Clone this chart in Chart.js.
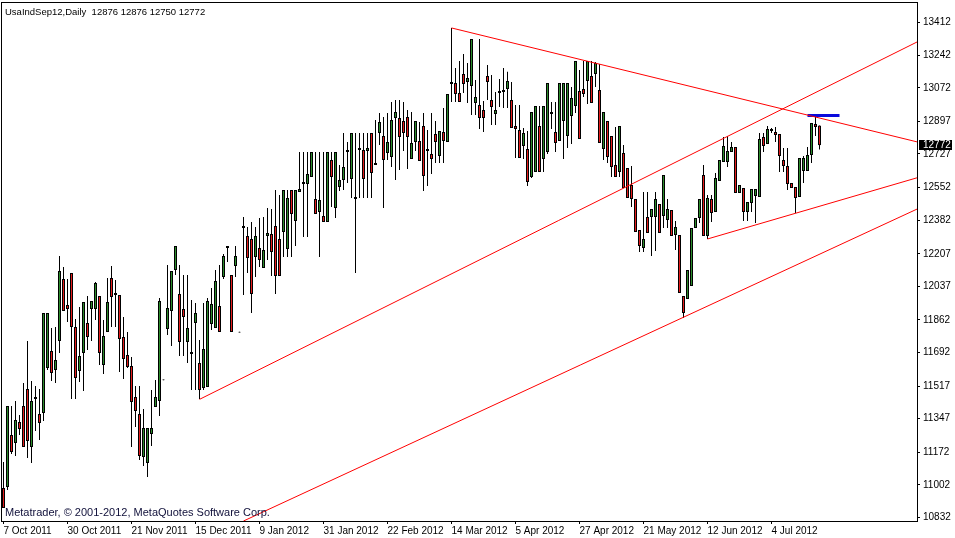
<!DOCTYPE html>
<html>
<head>
<meta charset="utf-8">
<script src="https://cdn.jsdelivr.net/npm/chart.js@4.4.0/dist/chart.umd.min.js"></script>
<style>
html, body { margin: 0; padding: 0; background: #fff; }
#wrap { width: 955px; height: 538px; position: relative; }
</style>
</head>
<body>
<div id="wrap"><canvas id="chart"></canvas></div>
<script>
const symbolTitle = 'UsaIndSep12,Daily  12876 12876 12750 12772';
const copyright = 'Metatrader, \u00a9 2001-2012, MetaQuotes Software Corp.';

// one date label every 16 bars
const dateLabels = ['7 Oct 2011', '30 Oct 2011', '21 Nov 2011', '15 Dec 2011', '9 Jan 2012', '31 Jan 2012',
    '22 Feb 2012', '14 Mar 2012', '5 Apr 2012', '27 Apr 2012', '21 May 2012', '12 Jun 2012', '4 Jul 2012'];
const labelEvery = 16;

const yTicks = [13412, 13242, 13072, 12897, 12727, 12552, 12382, 12207, 12037, 11862, 11692, 11517, 11347, 11172, 11002, 10832];

const opens = [10986, 10991, 11262, 11220, 11330, 11413, 11502, 11200, 11460, 11372,
    11377, 11611, 11700, 11601, 11752, 12075, 11940, 12107, 11825, 11596,
    11690, 11846, 11919, 11919, 11987, 11627, 11799, 12081, 12002, 11992,
    11773, 11679, 11622, 11460, 11372, 11147, 11116, 11267, 11408, 11439,
    11551, 11815, 11909, 12122, 11997, 11919, 11747, 11695, 11846, 11638,
    11507, 11512, 11841, 11820, 11935, 12086, 12247, 12096, 12143, 11801,
    12352, 12300, 12284, 12190, 12237, 12133, 12300, 12310, 12352, 12284,
    12320, 12232, 12539, 12378, 12529, 12571, 12571, 12607, 12492, 12425,
    12404, 12373, 12696, 12446, 12555, 12591, 12748, 12597, 12503, 12748,
    12748, 12743, 12837, 12680, 12837, 12821, 12732, 12711, 12915, 12915,
    12899, 12920, 12701, 12790, 12795, 12873, 12753, 12727, 12831, 12717,
    12842, 12790, 13092, 13097, 13045, 13144, 13102, 13082, 12993, 12982,
    12956, 13134, 13009, 12936, 13045, 13050, 13066, 13009, 12873, 12852,
    12769, 12753, 12607, 12633, 12873, 12701, 12737, 12946, 12842, 12795,
    12899, 12821, 12925, 12977, 13055, 13066, 13108, 13134, 13144, 13061,
    12753, 12899, 12821, 12670, 12633, 12732, 12654, 12565, 12492, 12331,
    12237, 12399, 12399, 12399, 12466, 12404, 12383, 12435, 12305, 12305,
    11987, 11971, 12039, 12341, 12393, 12618, 12300, 12492, 12425, 12586,
    12685, 12685, 12737, 12764, 12524, 12550, 12425, 12472, 12508, 12503,
    12816, 12779, 12857, 12842, 12831, 12696, 12665, 12576, 12555, 12503,
    12638, 12638, 12722, 12883, 12876];
const highs = [11121, 11413, 11413, 11439, 11366, 11533, 11752, 11544, 11518, 11502,
    11898, 11898, 11820, 11825, 12195, 12138, 12075, 12107, 11867, 11929,
    11955, 11987, 11961, 12060, 11987, 11862, 12081, 12143, 12070, 11992,
    11877, 11799, 11669, 11518, 11518, 11398, 11299, 11497, 11549, 11976,
    11551, 12148, 12117, 12247, 12148, 12096, 12096, 11966, 11950, 11757,
    11950, 11976, 12029, 12122, 12148, 12206, 12247, 12096, 12247, 11801,
    12399, 12347, 12373, 12347, 12393, 12399, 12446, 12440, 12539, 12513,
    12539, 12539, 12539, 12539, 12737, 12737, 12737, 12737, 12737, 12737,
    12737, 12737, 12737, 12737, 12670, 12837, 12790, 12837, 12837, 12837,
    12837, 12837, 12837, 12904, 12941, 12920, 12941, 12998, 13009, 13009,
    12998, 12956, 12946, 12899, 12894, 12941, 12852, 12941, 12899, 12847,
    12967, 13040, 13384, 13175, 13212, 13248, 13201, 13327, 13113, 13327,
    13003, 13191, 13139, 13050, 13118, 13175, 13155, 13102, 12982, 12982,
    12863, 12847, 12946, 12977, 12977, 12977, 13097, 12998, 12998, 13097,
    13097, 13097, 13076, 13212, 13165, 13212, 13212, 13212, 13207, 13196,
    12946, 12899, 12821, 12868, 12873, 12774, 12654, 12665, 12492, 12331,
    12529, 12529, 12440, 12529, 12466, 12618, 12492, 12435, 12378, 12305,
    11987, 12122, 12341, 12393, 12492, 12670, 12513, 12513, 12628, 12696,
    12816, 12821, 12790, 12764, 12565, 12550, 12477, 12545, 12545, 12837,
    12837, 12873, 12863, 12868, 12831, 12758, 12758, 12576, 12555, 12706,
    12717, 12764, 12889, 12925, 12876];
const lows = [10882, 10975, 11163, 11153, 11262, 11200, 11142, 11116, 11283, 11236,
    11335, 11601, 11544, 11533, 11690, 11909, 11851, 11450, 11450, 11538,
    11492, 11705, 11752, 11862, 11627, 11580, 11799, 11825, 11825, 11591,
    11554, 11611, 11200, 11304, 11132, 11101, 11043, 11205, 11408, 11361,
    11547, 11783, 11726, 12096, 11674, 11674, 11638, 11497, 11497, 11450,
    11497, 11512, 11810, 11820, 11799, 12075, 12164, 11799, 12086, 11797,
    11992, 12107, 11898, 12086, 12138, 12133, 12174, 12091, 11997, 12091,
    12190, 12190, 12190, 12247, 12529, 12294, 12294, 12607, 12414, 12190,
    12373, 12373, 12451, 12393, 12534, 12539, 12576, 12498, 12107, 12498,
    12498, 12498, 12498, 12670, 12774, 12446, 12696, 12659, 12591, 12644,
    12743, 12649, 12701, 12743, 12691, 12534, 12560, 12623, 12680, 12680,
    12680, 12790, 12998, 12998, 12998, 13045, 12993, 12930, 12930, 12857,
    12842, 13009, 12878, 12878, 12972, 12967, 12967, 12863, 12706, 12706,
    12701, 12560, 12602, 12633, 12633, 12633, 12727, 12857, 12737, 12795,
    12701, 12758, 12779, 12941, 12805, 13024, 12988, 12993, 13076, 12784,
    12696, 12680, 12607, 12607, 12607, 12550, 12498, 12451, 12320, 12216,
    12216, 12315, 12195, 12221, 12315, 12341, 12341, 12300, 12227, 12002,
    11872, 11971, 12039, 12341, 12367, 12300, 12284, 12373, 12425, 12586,
    12685, 12659, 12737, 12524, 12524, 12378, 12378, 12425, 12367, 12503,
    12737, 12779, 12837, 12790, 12633, 12633, 12539, 12550, 12419, 12503,
    12576, 12638, 12680, 12821, 12750];
const closes = [10882, 11413, 11174, 11340, 11293, 11200, 11231, 11439, 11450, 11325,
    11898, 11898, 11585, 11653, 12117, 11909, 11919, 11825, 11559, 11674,
    11955, 11773, 11961, 12055, 11690, 11778, 11955, 11982, 11992, 11763,
    11658, 11617, 11434, 11387, 11153, 11299, 11299, 11299, 11460, 11961,
    11547, 11924, 12117, 12247, 11747, 11877, 11820, 11684, 11898, 11497,
    11710, 11961, 11945, 12065, 11799, 12195, 12237, 11799, 12195, 11797,
    12341, 12185, 11997, 12300, 12174, 12227, 12315, 12216, 12091, 12091,
    12539, 12498, 12414, 12539, 12545, 12581, 12623, 12737, 12414, 12487,
    12373, 12737, 12607, 12737, 12591, 12659, 12737, 12837, 12492, 12758,
    12597, 12758, 12628, 12670, 12894, 12696, 12790, 12904, 12946, 12816,
    12837, 12816, 12784, 12899, 12691, 12612, 12743, 12701, 12790, 12847,
    12795, 13040, 13102, 13040, 12998, 13092, 13123, 13327, 13024, 12915,
    12915, 13102, 12972, 12956, 13055, 13061, 13108, 12863, 12857, 12706,
    12837, 12581, 12946, 12977, 12633, 12977, 13097, 12936, 12784, 13097,
    13097, 13097, 13019, 13212, 12805, 13040, 13212, 12993, 13201, 12784,
    12946, 12711, 12659, 12607, 12873, 12550, 12498, 12492, 12320, 12247,
    12284, 12315, 12440, 12492, 12315, 12618, 12440, 12300, 12347, 12002,
    11898, 12122, 12341, 12393, 12492, 12300, 12498, 12419, 12602, 12696,
    12769, 12743, 12764, 12524, 12565, 12425, 12477, 12545, 12545, 12805,
    12769, 12857, 12847, 12826, 12717, 12665, 12571, 12550, 12498, 12706,
    12706, 12722, 12889, 12868, 12772];

// trend lines: bar index / price at both ends
const trendFromIdx = [112, 49, 60, 176];
const trendFromPrice = [13384, 11448, 10814, 12284];
const trendToIdx = [228.4, 228.4, 228.4, 228.4];
const trendToPrice = [12790, 13311, 12440, 12603];

// short blue level near the last bars
const levelPrice = 12928;
const levelFromIdx = 201;
const levelToIdx = 209;

Chart.defaults.font.family = 'Liberation Sans, Arial, sans-serif';
Chart.defaults.font.size = 10;
Chart.defaults.color = '#000';

const idx = opens.map((_, i) => i);
const wickData = idx.map(i => ({ x: i, y: [lows[i], highs[i]] }));
const bodyData = idx.map(i => ({ x: i, y: [opens[i], closes[i]] }));
const bodyColors = idx.map(i => closes[i] >= opens[i] ? '#2b8c2b' : '#e41c1c');

const lineSets = trendFromIdx.map((x0, k) => ({
    type: 'line',
    data: [{ x: x0, y: trendFromPrice[k] }, { x: trendToIdx[k], y: trendToPrice[k] }],
    borderColor: '#ff0000',
    borderWidth: 1,
    pointRadius: 0,
    order: 0
}));

const frame = {
    id: 'frame',
    afterDraw(chart) {
        const { ctx, chartArea: a, scales } = chart;
        ctx.save();
        ctx.strokeStyle = '#000';
        ctx.lineWidth = 1;
        ctx.strokeRect(a.left - 0.5, a.top - 0.5, a.right - a.left + 1, a.bottom - a.top + 1);

        ctx.textBaseline = 'middle';
        ctx.textAlign = 'left';
        ctx.fillStyle = '#000';
        ctx.font = '9.5px "Liberation Sans", Arial, sans-serif';
        ctx.fillText(symbolTitle, a.left + 3, a.top + 9);
        ctx.fillStyle = '#10103a';
        ctx.font = '11px "Liberation Sans", Arial, sans-serif';
        ctx.fillText(copyright, a.left + 3, a.bottom - 8);

        // current price box
        const last = closes[closes.length - 1];
        const yp = Math.round(scales.y.getPixelForValue(last));
        ctx.font = '10px "Liberation Sans", Arial, sans-serif';
        ctx.fillStyle = '#000';
        ctx.fillRect(a.right + 2, yp - 5, 33, 10);
        ctx.fillStyle = '#fff';
        ctx.fillText(String(last), a.right + 6, yp);
        ctx.restore();
    }
};

new Chart(document.getElementById('chart'), {
    type: 'bar',
    data: {
        datasets: [
            ...lineSets,
            {
                type: 'line',
                data: [{ x: levelFromIdx, y: levelPrice }, { x: levelToIdx, y: levelPrice }],
                borderColor: '#0a0adc',
                borderWidth: 3,
                pointRadius: 0,
                order: 0
            },
            {
                data: bodyData,
                backgroundColor: bodyColors,
                borderColor: '#000',
                borderWidth: 1,
                borderSkipped: false,
                inflateAmount: 0,
                barThickness: 3,
                grouped: false,
                order: 1
            },
            {
                data: wickData,
                backgroundColor: '#000',
                borderWidth: 0,
                inflateAmount: 0,
                barThickness: 1,
                grouped: false,
                order: 2
            }
        ]
    },
    options: {
        responsive: true,
        maintainAspectRatio: false,
        animation: false,
        events: [],
        layout: { padding: { left: 2, top: 3, right: 0, bottom: 0 } },
        plugins: {
            legend: { display: false },
            tooltip: { enabled: false }
        },
        scales: {
            x: {
                type: 'linear',
                offset: false,
                min: -0.375,
                max: 228.375,
                afterBuildTicks: s => { s.ticks = dateLabels.map((_, k) => ({ value: k * labelEvery })); },
                afterFit: s => { s.height = 17; s.paddingLeft = 0; s.paddingRight = 0; },
                border: { display: false },
                grid: { drawOnChartArea: false, drawTicks: true, tickLength: 3, color: '#000', offset: false },
                ticks: {
                    autoSkip: false,
                    maxRotation: 0,
                    align: 'start',
                    padding: 1,
                    color: '#000',
                    callback: v => dateLabels[Math.round(v / labelEvery)]
                }
            },
            y: {
                position: 'right',
                min: 10814,
                max: 13514,
                afterBuildTicks: s => { s.ticks = yTicks.map(v => ({ value: v })); },
                afterFit: s => { s.width = 38; s.paddingTop = 0; s.paddingBottom = 0; },
                border: { display: false },
                grid: { drawOnChartArea: false, drawTicks: true, tickLength: 3, color: '#000' },
                ticks: { padding: 3, color: '#000', callback: v => String(v) }
            }
        }
    },
    plugins: [frame]
});
</script>
</body>
</html>
